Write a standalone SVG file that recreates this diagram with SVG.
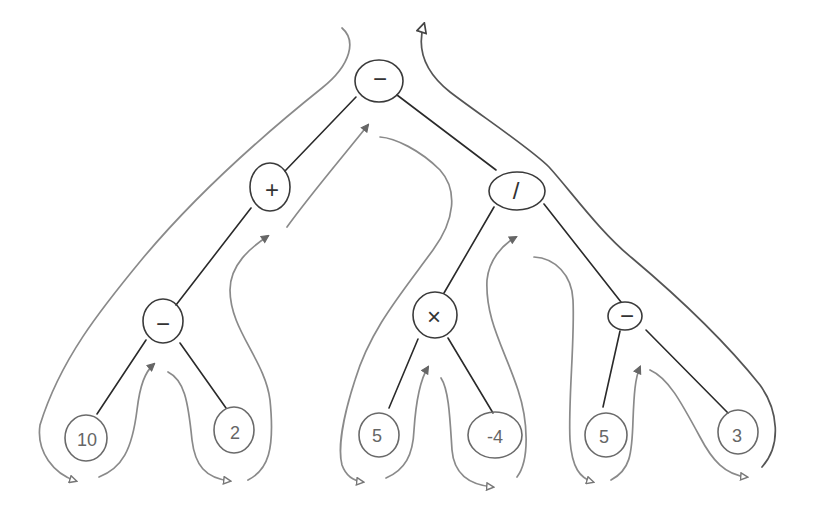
<svg xmlns="http://www.w3.org/2000/svg" width="819" height="506" viewBox="0 0 819 506">
<style>
.bg{fill:#ffffff}
.node ellipse{fill:none;stroke:#3a3a3a;stroke-width:1.6}
.leaf ellipse{stroke:#6a6a6a}
.node text{font-family:"Liberation Sans","DejaVu Sans",sans-serif;font-size:24px;fill:#333333;text-anchor:middle;dominant-baseline:central}
.leaf text{font-size:18px;fill:#666666}
.edge{fill:none;stroke:#2a2a2a;stroke-width:1.6;stroke-linecap:round}
.tour{fill:none;stroke:#8a8a8a;stroke-width:1.7;stroke-linecap:round}
.up{marker-end:url(#fill)}
.right{marker-end:url(#open)}
</style>
<defs>
<marker id="open" viewBox="0 0 10 10" refX="8" refY="5" markerWidth="9" markerHeight="9" markerUnits="userSpaceOnUse" orient="auto">
<path d="M1,1 L9,5 L1,9 Z" fill="#ffffff" stroke="#777" stroke-width="1.6"/>
</marker>
<marker id="fill" viewBox="0 0 10 10" refX="8" refY="5" markerWidth="9" markerHeight="9" markerUnits="userSpaceOnUse" orient="auto">
<path d="M1,1 L9,5 L1,9 Z" fill="#666" stroke="#666" stroke-width="1.2"/>
</marker>
<marker id="end" viewBox="0 0 10 10" refX="8" refY="5" markerWidth="12" markerHeight="12" markerUnits="userSpaceOnUse" orient="auto">
<path d="M1,1 L9,5 L1,9 Z" fill="#ffffff" stroke="#444" stroke-width="1.4"/>
</marker>
</defs>
<rect class="bg" x="0" y="0" width="819" height="506"/>
<g id="connectors">
<g id="tree-edges">
<path class="edge" d="M356,97 L285,171"/>
<path class="edge" d="M397,95 L496,170"/>
<path class="edge" d="M251,208 L176,305"/>
<path class="edge" d="M146,340 L97,414"/>
<path class="edge" d="M180,343 L226,408"/>
<path class="edge" d="M494,207 L444,293"/>
<path class="edge" d="M544,204 L621,302"/>
<path class="edge" d="M418,339 L389,408"/>
<path class="edge" d="M448,338 L493,413"/>
<path class="edge" d="M620,331 L603,407"/>
<path class="edge" d="M646,330 L728,413"/>
</g>
<g id="tour">
<path class="tour right" d="M342,28 C356,40 352,64 322,88 C272,128 200,190 143,258 C100,310 60,360 40,425 C36,452 54,474 76,481"/>
<path class="tour up" d="M99,477 C122,468 132,450 137,410 C140,385 145,372 154,364"/>
<path class="tour right" d="M168,372 C184,380 188,400 192,440 C195,465 205,478 230,481"/>
<path class="tour up" d="M248,480 C268,470 275,450 270,400 C265,360 230,330 230,290 C230,265 250,248 268,236"/>
<path class="tour up" d="M287,227 C310,195 340,160 368,125"/>
<path class="tour right" d="M380,137 C395,138 420,150 440,170 C458,190 455,220 433,250 C400,295 370,330 355,380 C342,420 338,450 342,465 C346,476 354,481 363,482"/>
<path class="tour up" d="M386,478 C405,470 413,455 414,430 C416,400 420,380 428,367"/>
<path class="tour right" d="M441,378 C449,390 450,420 452,450 C454,475 470,485 493,487"/>
<path class="tour up" d="M517,477 C530,460 528,420 518,390 C505,350 485,320 487,280 C489,260 502,245 516,237"/>
<path class="tour right" d="M534,257 C555,258 572,275 573,300 C575,340 568,400 570,440 C572,468 580,478 593,482"/>
<path class="tour up" d="M611,480 C630,470 632,455 633,420 C634,395 635,378 640,367"/>
<path class="tour right" d="M650,370 C668,378 680,400 700,437 C712,460 725,475 747,477"/>
<path class="tour" style="stroke:#555;marker-end:url(#end)" d="M762,467 C782,445 778,410 760,385 C720,335 670,290 632,258 C600,232 570,190 549,167 C530,148 480,115 450,92 C425,72 416,50 424,24"/>
</g>
</g>
<g id="node-root" class="node"><ellipse cx="379" cy="81" rx="24" ry="21"/><text x="380" y="78">−</text></g>
<g id="node-plus" class="node"><ellipse cx="270" cy="187" rx="20" ry="24"/><text x="272" y="189">+</text></g>
<g id="node-div" class="node"><ellipse cx="517" cy="191" rx="28" ry="19"/><text x="516" y="190">/</text></g>
<g id="node-minus-left" class="node"><ellipse cx="163" cy="321" rx="20" ry="22"/><text x="163" y="323">−</text></g>
<g id="node-times" class="node"><ellipse cx="435" cy="315" rx="22" ry="23"/><text x="434" y="316">×</text></g>
<g id="node-minus-right" class="node"><ellipse cx="625" cy="316" rx="17" ry="14"/><text x="627" y="315">−</text></g>
<g id="leaf-10" class="node leaf"><ellipse cx="86" cy="438" rx="21" ry="23"/><text x="87" y="440">10</text></g>
<g id="leaf-2" class="node leaf"><ellipse cx="234" cy="430" rx="20" ry="23"/><text x="235" y="433">2</text></g>
<g id="leaf-5a" class="node leaf"><ellipse cx="379" cy="435" rx="20" ry="22"/><text x="377" y="436">5</text></g>
<g id="leaf-neg4" class="node leaf"><ellipse cx="495" cy="435" rx="27" ry="23"/><text x="495" y="437">-4</text></g>
<g id="leaf-5b" class="node leaf"><ellipse cx="606" cy="435" rx="21" ry="22"/><text x="604" y="437">5</text></g>
<g id="leaf-3" class="node leaf"><ellipse cx="738" cy="432" rx="20" ry="22"/><text x="737" y="436">3</text></g>
</svg>
